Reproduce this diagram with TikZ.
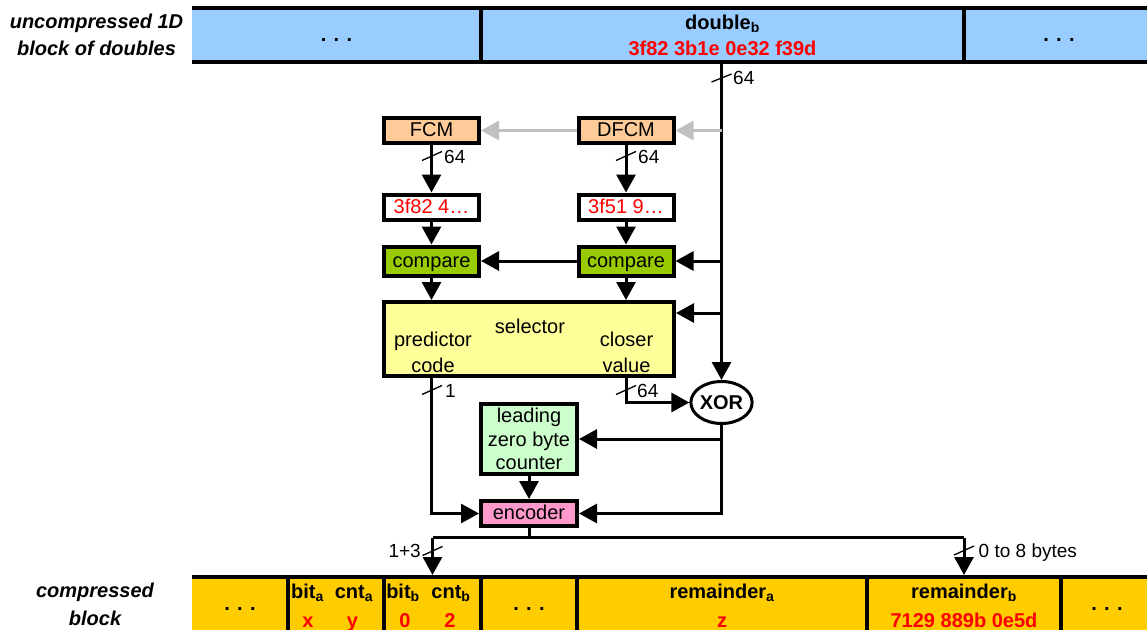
\documentclass[tikz,border=0pt]{standalone}
\usepackage{fontspec}
\setmainfont{Liberation Sans}
\usetikzlibrary{arrows.meta,shapes.geometric,calc}
\definecolor{barblue}{HTML}{99CCFF}
\definecolor{baryellow}{HTML}{FFCC00}
\definecolor{fcmorange}{HTML}{FFCC99}
\definecolor{cmpgreen}{HTML}{99CC00}
\definecolor{selyellow}{HTML}{FFFF99}
\definecolor{cntgreen}{HTML}{CCFFCC}
\definecolor{encpink}{HTML}{FF99CC}
\definecolor{arrgray}{HTML}{C0C0C0}
\definecolor{valred}{HTML}{FF0000}
\begin{document}
\begin{tikzpicture}[x=1pt,y=-1pt,
  txt/.style={font=\fontsize{20}{24}\selectfont, inner sep=0pt, outer sep=0pt},
  btxt/.style={font=\fontsize{20}{24}\selectfont\bfseries, inner sep=0pt, outer sep=0pt},
  rtxt/.style={btxt, text=valred},
  sidelbl/.style={font=\fontsize{20}{24}\selectfont\bfseries\itshape, inner sep=0pt, anchor=base},
  boxbase/.style={draw, line width=4pt, minimum width=95pt, minimum height=25pt, inner sep=0pt,
    font=\fontsize{20}{24}\selectfont},
  box/.style={boxbase, text height=14pt, text depth=2pt},
  conn/.style={line width=3pt},
  arr/.style={line width=3pt, -{Triangle[length=18pt,width=19pt]}},
  garr/.style={line width=3pt, draw=arrgray, -{Triangle[length=18pt,width=19pt]}},
  slashmark/.style={line width=1.3pt},
  lbl/.style={font=\fontsize{19}{22}\selectfont, inner sep=0pt, anchor=base west},
  tcell/.style={fill=barblue, inner sep=0pt, outer sep=0pt, minimum height=54pt},
  bcell/.style={fill=baryellow, inner sep=0pt, outer sep=0pt, minimum height=63pt},
  barline/.style={line width=3.5pt}
]
\useasboundingbox (0,0) rectangle (1147,629);

% ---------- top bar ----------
\node[tcell, minimum width=289pt] (t1) at (336.5,35) {};
\node[tcell, minimum width=483pt] (t2) at (722.5,35) {};
\node[tcell, minimum width=183pt] (t3) at (1055.5,35) {};
\draw[barline] (t1.north west) -- (t3.north east);
\draw[barline] (t1.south west) -- (t3.south east);
\draw[barline] (t2.north west) -- (t2.south west);
\draw[barline] (t2.north east) -- (t2.south east);
\node[btxt, anchor=base] (t1dots) at (336.5,41.5) {. . .};
\node[btxt, anchor=base] (t3dots) at (1059,41.5) {. . .};
\node[btxt, anchor=base] (dbl) at (722.5,29) {double\textsubscript{b}};
\node[rtxt, anchor=base] (dblval) at (722.5,55.5) {3f82 3b1e 0e32 f39d};
\node[sidelbl] (ul1) at (96.5,28.5) {uncompressed 1D};
\node[sidelbl] (ul2) at (96.5,55) {block of doubles};

% ---------- bottom bar ----------
\node[bcell, minimum width=96pt] (b1) at (240,608.5) {};
\node[bcell, minimum width=96pt] (b2) at (336,608.5) {};
\node[bcell, minimum width=97pt] (b3) at (432.5,608.5) {};
\node[bcell, minimum width=96pt] (b4) at (529,608.5) {};
\node[bcell, minimum width=290pt] (b5) at (722,608.5) {};
\node[bcell, minimum width=194pt] (b6) at (964,608.5) {};
\node[bcell, minimum width=86pt] (b7) at (1104,608.5) {};
\draw[barline] (b1.north west) -- (b7.north east);
\foreach \c in {b2,b3,b4,b5,b6,b7}{\draw[barline] (\c.north west) -- (\c.south west);}
\node[btxt, anchor=base] (b1dots) at (240,610.5) {. . .};
\node[btxt, anchor=base] (b4dots) at (529,610.5) {. . .};
\node[btxt, anchor=base] (b7dots) at (1107,610.5) {. . .};
\node[btxt, anchor=base] (bita) at (307.5,598) {bit\textsubscript{a}};
\node[btxt, anchor=base] (cnta) at (354,598) {cnt\textsubscript{a}};
\node[rtxt, anchor=base] (xa) at (308,627) {x};
\node[rtxt, anchor=base] (ya) at (352.5,627) {y};
\node[btxt, anchor=base] (bitb) at (403,598) {bit\textsubscript{b}};
\node[btxt, anchor=base] (cntb) at (451,598) {cnt\textsubscript{b}};
\node[rtxt, anchor=base] (xb) at (405,627) {0};
\node[rtxt, anchor=base] (yb) at (450,627) {2};
\node[btxt, anchor=base] (rema) at (722,598) {remainder\textsubscript{a}};
\node[rtxt, anchor=base] (remaval) at (722,627) {z};
\node[btxt, anchor=base] (remb) at (964,598) {remainder\textsubscript{b}};
\node[rtxt, anchor=base] (rembval) at (964,627) {7129 889b 0e5d};
\node[sidelbl] (cl1) at (95,597.5) {compressed};
\node[sidelbl] (cl2) at (95,625) {block};

% ---------- boxes ----------
\node[box, fill=fcmorange] (fcm) at (431.5,130.5) {FCM};
\node[box, fill=fcmorange] (dfcm) at (626,130.5) {DFCM};
\node[box, fill=white, text=valred] (v1) at (431.5,207) {3f82 4…};
\node[box, fill=white, text=valred] (v2) at (626,207) {3f51 9…};
\node[box, fill=cmpgreen, minimum height=29pt] (c1) at (431.5,261) {compare};
\node[box, fill=cmpgreen, minimum height=29pt] (c2) at (626,261) {compare};
\node[boxbase, fill=selyellow, minimum width=290pt, minimum height=74pt] (sel) at (529,339) {};
\node[txt, anchor=base] (seltitle) at (530,333) {selector};
\node[txt, anchor=base] (pc1) at (433,346.5) {predictor};
\node[txt, anchor=base] (pc2) at (433,372.5) {code};
\node[txt, anchor=base] (cv1) at (626.5,346.5) {closer};
\node[txt, anchor=base] (cv2) at (626.5,372.5) {value};
\node[boxbase, fill=cntgreen, minimum width=96pt, minimum height=70pt, align=center,
  font=\fontsize{20}{23.5}\selectfont] (cnt) at (529,439) {leading\\zero byte\\counter};
\node[box, fill=encpink, minimum width=96pt] (enc) at (529,513.5) {encoder};
\node[draw, ellipse, line width=3pt, minimum width=53pt, minimum height=42pt, inner sep=0pt,
  fill=white, font=\fontsize{20}{24}\selectfont\bfseries] (xor) at (721.5,402.5) {XOR};

% ---------- coordinates ----------
\coordinate (selR) at ([yshift=26pt]sel.east);
\coordinate (busy) at (0,537.5);

% ---------- connectors ----------
\draw[arr] (t2.south -| xor.north) -- (xor.north);
\draw[garr] (xor.north |- dfcm.east) -- (dfcm.east);
\draw[garr] (dfcm.west) -- (fcm.east);
\draw[arr] (fcm.south) -- (v1.north);
\draw[arr] (dfcm.south) -- (v2.north);
\draw[arr] (v1.south) -- (c1.north);
\draw[arr] (v2.south) -- (c2.north);
\draw[arr] (xor.north |- c2.east) -- (c2.east);
\draw[arr] (c2.west) -- (c1.east);
\draw[arr] (c1.south) -- (c1.south |- sel.north);
\draw[arr] (c2.south) -- (c2.south |- sel.north);
\draw[arr] (xor.north |- selR) -- (selR);
\draw[arr] (sel.south -| c1.south) |- (enc.west);
\draw[arr] (sel.south -| c2.south) |- (xor.west);
\draw[arr] (xor.south) |- (enc.east);
\draw[arr] (xor.south |- cnt.east) -- (cnt.east);
\draw[arr] (cnt.south) -- (enc.north);
\draw[conn] (enc.south) -- (enc.south |- busy);
\draw[conn] (b3.north |- busy) -- (b6.north |- busy);
\draw[arr] (b3.north |- busy) -- ([yshift=2pt]b3.north);
\draw[arr] (b6.north |- busy) -- ([yshift=2pt]b6.north);

% ---------- bus width marks ----------
\draw[slashmark] (711.5,82) -- (731.5,74);
\node[lbl] (w0) at (733,84) {64};
\draw[slashmark] (422,160.5) -- (442,151.5);
\node[lbl] (w1) at (444,163.5) {64};
\draw[slashmark] (616,160.5) -- (636,151.5);
\node[lbl] (w2) at (638,163.5) {64};
\draw[slashmark] (422,394.5) -- (442,385.5);
\node[lbl] (w3) at (445,397.5) {1};
\draw[slashmark] (616,394.5) -- (636,385.5);
\node[lbl] (w4) at (637,397.5) {64};
\draw[slashmark] (422.5,555.5) -- (442.5,546.5);
\node[lbl, anchor=base east] (w5) at (421,557) {1+3};
\draw[slashmark] (954,555) -- (974,546);
\node[lbl] (w6) at (978.5,557) {0 to 8 bytes};
\end{tikzpicture}
\end{document}
